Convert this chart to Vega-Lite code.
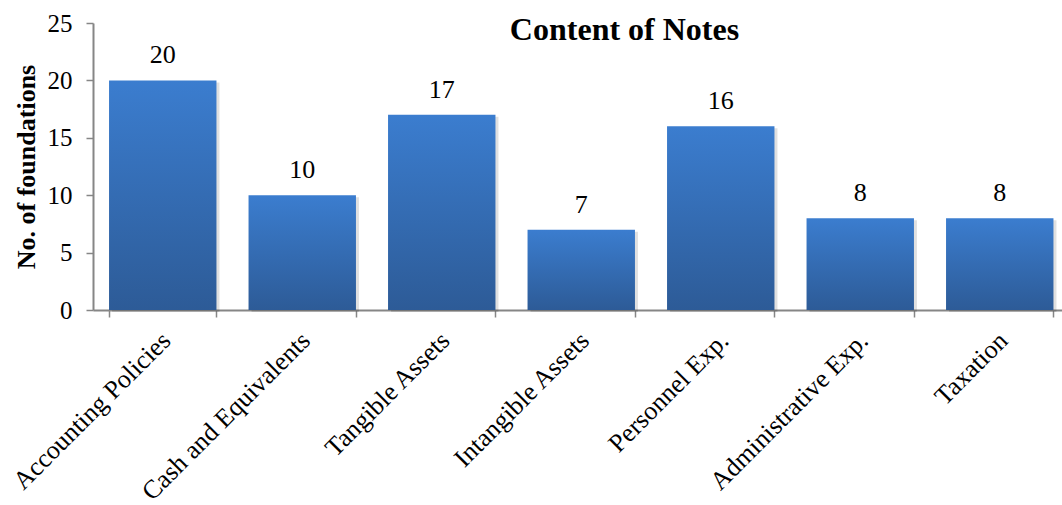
{
  "$schema": "https://vega.github.io/schema/vega-lite/v6.json",
  "width": 969,
  "height": 287,
  "autosize": {"type": "none"},
  "padding": {"left": 93, "top": 23, "right": 0, "bottom": 195},
  "background": "white",
  "title": {
    "text": "Content of Notes",
    "font": "Liberation Serif",
    "fontSize": 32,
    "fontWeight": "bold",
    "color": "black",
    "anchor": "middle",
    "frame": "group",
    "baseline": "alphabetic",
    "offset": 0,
    "dx": 47,
    "dy": 61
  },
  "data": {
    "values": [
      {"note": "Accounting Policies", "count": 20},
      {"note": "Cash and Equivalents", "count": 10},
      {"note": "Tangible Assets", "count": 17},
      {"note": "Intangible Assets", "count": 7},
      {"note": "Personnel Exp.", "count": 16},
      {"note": "Administrative Exp.", "count": 8},
      {"note": "Taxation", "count": 8}
    ]
  },
  "config": {
    "view": {"stroke": null},
    "axis": {
      "labelFont": "Liberation Serif",
      "titleFont": "Liberation Serif",
      "labelColor": "black",
      "titleColor": "black",
      "domainColor": "#868686",
      "tickColor": "#868686",
      "domainWidth": 2,
      "tickWidth": 1.5,
      "grid": false
    }
  },
  "encoding": {
    "x": {
      "field": "note",
      "type": "nominal",
      "sort": null,
      "scale": {"range": [0, 976.5], "paddingInner": 0.23, "paddingOuter": 0.115},
      "axis": {
        "title": null,
        "labelAngle": -45,
        "labelAlign": "right",
        "labelBaseline": "top",
        "labelFontSize": 26,
        "labelPadding": 10,
        "labelOffset": -6,
        "tickBand": "extent",
        "tickSize": 7,
        "labelLimit": 400
      }
    },
    "y": {
      "field": "count",
      "type": "quantitative",
      "scale": {"domain": [0, 25]},
      "axis": {
        "title": "No. of foundations",
        "titleFontSize": 26,
        "titleFontWeight": "bold",
        "titlePadding": 8,
        "values": [0, 5, 10, 15, 20, 25],
        "labelFontSize": 25,
        "labelPadding": 14,
        "tickSize": 7
      }
    }
  },
  "layer": [
    {
      "mark": {"type": "bar", "color": "#000000", "opacity": 0.12, "xOffset": 3, "yOffset": 2}
    },
    {
      "mark": {
        "type": "bar",
        "color": {
          "gradient": "linear",
          "x1": 0, "y1": 0, "x2": 0, "y2": 1,
          "stops": [
            {"offset": 0, "color": "#3b7dcf"},
            {"offset": 1, "color": "#2d5b97"}
          ]
        }
      }
    },
    {
      "mark": {
        "type": "text",
        "font": "Liberation Serif",
        "fontSize": 26,
        "color": "black",
        "baseline": "alphabetic",
        "dy": -17
      },
      "encoding": {"text": {"field": "count", "type": "quantitative"}}
    }
  ]
}
